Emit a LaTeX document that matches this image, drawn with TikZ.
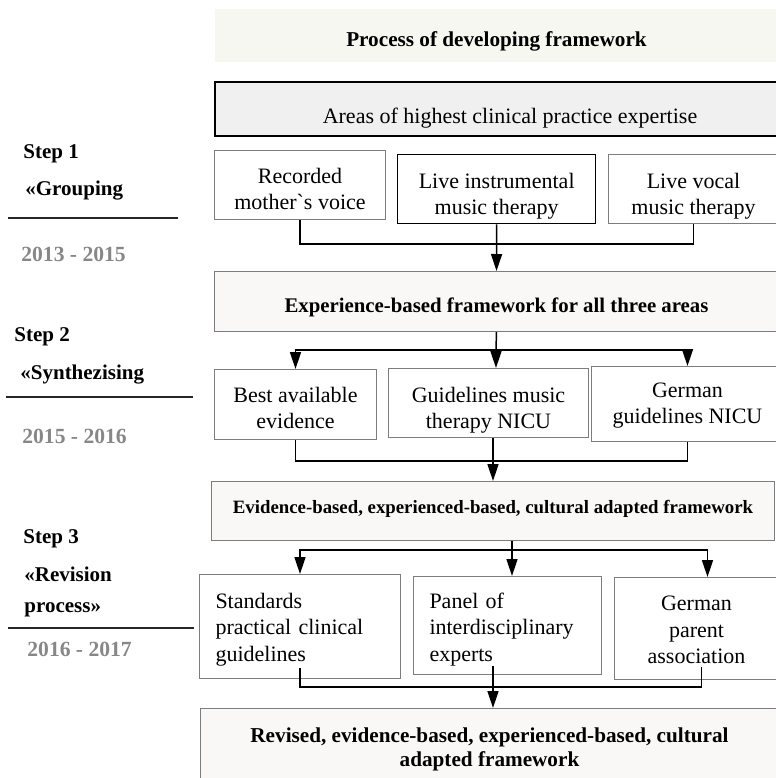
\documentclass[tikz,border=0pt]{standalone}
\usepackage{fontspec}
\setmainfont{Liberation Serif}
\usetikzlibrary{arrows.meta}

\definecolor{titlefill}{RGB}{247,247,242}
\definecolor{areafill}{RGB}{240,240,240}
\definecolor{framefill}{RGB}{249,248,246}
\definecolor{edgegrey}{RGB}{125,125,125}
\definecolor{yeargrey}{RGB}{135,135,135}

\tikzset{
  plainbox/.style={draw=edgegrey, line width=0.5pt, fill=white, anchor=north west, align=center, inner sep=0pt, font=\fontsize{11}{13.2}\selectfont},
  blackbox/.style={plainbox, draw=black, line width=0.7pt},
  framebox/.style={plainbox, fill=framefill, font=\bfseries\fontsize{10.4}{12}\selectfont},
  leftbox/.style={plainbox, align=left, inner xsep=8pt},
  steplabel/.style={anchor=base west, inner sep=0pt, font=\bfseries\fontsize{10.5}{12}\selectfont},
  yearlabel/.style={steplabel, text=yeargrey, font=\bfseries\fontsize{10.8}{12}\selectfont},
  rule/.style={line width=0.65pt, black!85},
  link/.style={line width=0.75pt},
  arrowlink/.style={link, -{Triangle[width=5.5pt,length=8.5pt]}}
}

\begin{document}
\begin{tikzpicture}[x=0.5pt, y=-0.5pt]
            \useasboundingbox (0,0) rectangle (776,778);
            \clip (0,0) rectangle (776,778);

            \node[plainbox, draw=none, fill=titlefill, minimum width=282pt, text height=19pt, text depth=7.5pt, font=\bfseries\fontsize{10.6}{12}\selectfont] (title) at (214,8) {Process of developing framework};
            \node[plainbox, draw=black, line width=1pt, fill=areafill, minimum width=295pt, text height=20.5pt, text depth=6.5pt] (areas) at (214,81) {Areas of highest clinical practice expertise};

            \node[plainbox, minimum width=85.5pt, text height=29.5pt, text depth=5pt] (rec) at (214,150) {Recorded\\ mother\textasciigrave{}s voice};
            \node[blackbox, minimum width=99pt, text height=30pt, text depth=4.5pt] (instr) at (397,154) {Live instrumental\\ music therapy};
            \node[plainbox, minimum width=85pt, text height=30pt, text depth=4.5pt] (vocal) at (608,154) {Live vocal\\ music therapy};
            \node[framebox, minimum width=282pt, text height=20.5pt, text depth=9.5pt] (exper) at (214,271) {Experience-based framework for all three areas};

            \node[plainbox, minimum width=81pt, text height=29.5pt, text depth=5.5pt] (best) at (214,369) {Best available\\ evidence};
            \node[plainbox, minimum width=100pt, text height=30pt, text depth=4.5pt] (guide) at (388,368) {Guidelines music\\ therapy NICU};
            \node[plainbox, minimum width=96pt, text height=28.5pt, text depth=9pt] (gergui) at (591,366) {German\\ guidelines NICU};
            \node[framebox, minimum width=281.5pt, text height=16pt, text depth=13.5pt, font=\bfseries\fontsize{9.4}{11}\selectfont] (evid) at (211,481) {Evidence-based, experienced-based, cultural adapted framework};

            \node[leftbox, text width=84.5pt, text height=17pt, text depth=35pt] (stand) at (199,574) {Standards\\ practical clinical\\ guidelines};
            \node[leftbox, text width=78pt, text height=16pt, text depth=33pt] (panel) at (413,576) {Panel of\\ interdisciplinary\\ experts};
            \node[plainbox, minimum width=82pt, text height=43pt, text depth=8pt] (parent) at (614,577) {German\\ parent\\ association};
            \node[framebox, minimum width=289pt, text height=29pt, text depth=10pt, font=\bfseries\fontsize{10.6}{12}\selectfont] (revised) at (200,708) {Revised, evidence-based, experienced-based, cultural\\ adapted framework};

            \node[steplabel] (step1) at (23,158) {Step 1};
            \node[steplabel] (group) at (25,195) {«Grouping};
            \node[yearlabel] (year1) at (21,261) {2013 - 2015};
            \draw[rule] (8,218) -- (178,218);

            \node[steplabel] (step2) at (14,341) {Step 2};
            \node[steplabel] (synth) at (20,379) {«Synthezising};
            \node[yearlabel] (year2) at (22,443) {2015 - 2016};
            \draw[rule] (6,397) -- (193,397);

            \node[steplabel] (step3) at (23,543) {Step 3};
            \node[steplabel] (revis) at (24,581) {«Revision};
            \node[steplabel] (procs) at (24,612) {process»};
            \node[yearlabel] (year3) at (27,656) {2016 - 2017};
            \draw[rule] (8,628) -- (194,628);

            \coordinate (join1) at (496,244);
            \draw[link] (rec.south) |- (join1) -| (vocal.south);
            \draw[arrowlink] (instr.south) -- (exper.north);

            \coordinate (fork2) at (496,350);
            \draw[link] (exper.south) -- (fork2);
            \draw[arrowlink] (fork2) -| (best.north);
            \draw[arrowlink] (fork2) -| (gergui.north);
            \draw[arrowlink] (fork2) -- (fork2 |- guide.north);

            \coordinate (join3) at (493,461);
            \draw[link] (best.south) |- (join3) -| (gergui.south);
            \draw[arrowlink] (guide.south -| join3) -- (join3 |- evid.north);

            \coordinate (fork4) at (512,550);
            \draw[link] (fork4 |- evid.south) -- (fork4);
            \draw[arrowlink] (fork4) -| (stand.north);
            \draw[arrowlink] (fork4) -- (fork4 |- panel.north);
            \draw[arrowlink] (fork4) -| ([xshift=5.5pt]parent.north);

            \coordinate (join5) at (493,687);
            \path (join5 |- panel.south) ++(0,-9) coordinate (panelout);
            \draw[link] ([yshift=5.5pt]stand.south) |- (join5) -| ([xshift=2.5pt,yshift=6.5pt]parent.south);
            \draw[arrowlink] (panelout) -- (join5 |- revised.north);
        \end{tikzpicture}
\end{document}
